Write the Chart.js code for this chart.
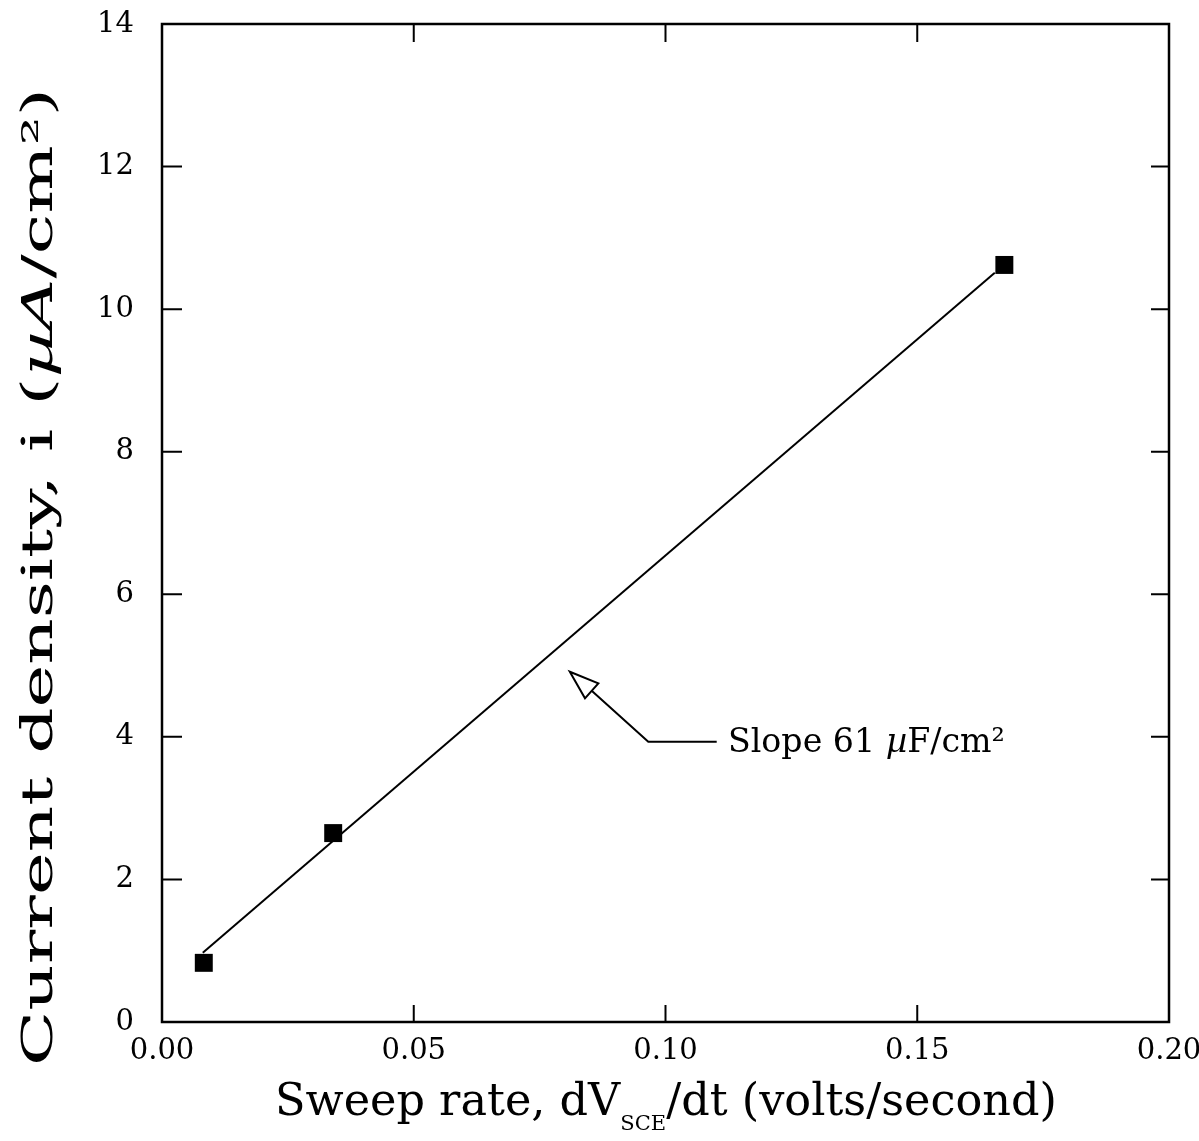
<!DOCTYPE html>
<html><head><meta charset="utf-8">
<script src="https://cdn.jsdelivr.net/npm/chart.js@4"></script>
<style>html,body{margin:0;padding:0;background:#fff}#wrap{width:1199px;height:1141px}</style>
</head><body><div id="wrap"><canvas id="c" width="1199" height="1141"></canvas></div>
<script>
// ---- data ----
const sweepRate = [0.0083, 0.0340, 0.1673];       // V/s
const currentDensity = [0.83, 2.65, 10.62];       // uA/cm2
const fitX = [0.0081, 0.1654];                    // fitted line ends
const fitY = [0.97, 10.51];
const xTicks = [0, 0.05, 0.10, 0.15, 0.20];
const yTicks = [0, 2, 4, 6, 8, 10, 12, 14];
// annotation (data coordinates)
const arrowTip = [0.0810, 4.914];
const arrowHeadA = [0.08666, 4.751];
const arrowHeadB = [0.08401, 4.541];
const arrowBase = [0.08534, 4.648];
const arrowElbow = [0.09658, 3.932];
const arrowEnd = [0.11017, 3.932];
const labelAnchor = [0.11241, 3.792];

const SERIF = '"DejaVu Serif", "Liberation Serif", serif';

// draws rich text; mode 'fit' scales font size, mode 'stretch' scales horizontally
function drawRich(ctx, segs, x, y, targetW, align, mode) {
  let total = 0;
  const fontOf = (s, k) => `${s.style || 'normal'} ${s.size * k}px ${SERIF}`;
  for (const s of segs) { ctx.font = fontOf(s, 1); total += ctx.measureText(s.t).width; }
  let k = 1, sx = 1;
  if (mode === 'stretch') sx = targetW / total; else k = targetW / total;
  const w = total * k * sx;
  ctx.save();
  ctx.translate(align === 'center' ? x - w / 2 : x, y);
  ctx.scale(sx, 1);
  ctx.textBaseline = 'alphabetic';
  ctx.textAlign = 'left';
  let cx = 0;
  for (const s of segs) {
    ctx.font = fontOf(s, k);
    ctx.fillText(s.t, cx, (s.dy || 0) * k);
    cx += ctx.measureText(s.t).width;
  }
  ctx.restore();
}

const framePlugin = {
  id: 'frame',
  afterDraw(chart) {
    const {ctx, chartArea: a, scales: {x, y}} = chart;
    ctx.save();
    ctx.strokeStyle = '#000';
    ctx.lineWidth = 2.5;
    ctx.strokeRect(a.left, a.top, a.right - a.left, a.bottom - a.top);
    // inward ticks on all four sides
    ctx.lineWidth = 2;
    ctx.beginPath();
    for (const t of x.ticks) {
      if (t.value <= x.min || t.value >= x.max) continue;
      const px = x.getPixelForValue(t.value);
      ctx.moveTo(px, a.bottom); ctx.lineTo(px, a.bottom - 17);
      ctx.moveTo(px, a.top); ctx.lineTo(px, a.top + 18);
    }
    for (const t of y.ticks) {
      if (t.value <= y.min || t.value >= y.max) continue;
      const py = y.getPixelForValue(t.value);
      ctx.moveTo(a.left, py); ctx.lineTo(a.left + 20, py);
      ctx.moveTo(a.right, py); ctx.lineTo(a.right - 18, py);
    }
    ctx.stroke();

    // arrow annotation
    const P = p => [x.getPixelForValue(p[0]), y.getPixelForValue(p[1])];
    const tip = P(arrowTip), hA = P(arrowHeadA), hB = P(arrowHeadB);
    const base = P(arrowBase), elbow = P(arrowElbow), end = P(arrowEnd);
    ctx.lineWidth = 2;
    ctx.fillStyle = '#fff';
    ctx.beginPath();
    ctx.moveTo(tip[0], tip[1]); ctx.lineTo(hA[0], hA[1]); ctx.lineTo(hB[0], hB[1]); ctx.closePath();
    ctx.fill(); ctx.stroke();
    ctx.beginPath();
    ctx.moveTo(base[0], base[1]); ctx.lineTo(elbow[0], elbow[1]); ctx.lineTo(end[0], end[1]);
    ctx.stroke();
    const la = P(labelAnchor);
    ctx.fillStyle = '#000';
    drawRich(ctx, [
      {t: 'Slope 61 ', size: 26},
      {t: 'µ', size: 26, style: 'italic'},
      {t: 'F/cm²', size: 26}
    ], la[0], la[1], 277, 'left', 'fit');

    // x axis title
    drawRich(ctx, [
      {t: 'Sweep rate, dV', size: 36},
      {t: 'SCE', size: 17, dy: 12},
      {t: '/dt (volts/second)', size: 36}
    ], 666, 1115, 782, 'center', 'fit');

    // y axis title (rotated)
    ctx.save();
    ctx.translate(52, 577);
    ctx.rotate(-Math.PI / 2);
    drawRich(ctx, [
      {t: 'Current density, i (', size: 42},
      {t: 'µA', size: 42, style: 'italic'},
      {t: '/cm²)', size: 42}
    ], 0, 0, 978, 'center', 'stretch');
    ctx.restore();
    ctx.restore();
  }
};

const tickFont = {family: SERIF, size: 29};

new Chart(document.getElementById('c'), {
  type: 'scatter',
  data: {
    datasets: [
      {
        data: sweepRate.map((v, i) => ({x: v, y: currentDensity[i]})),
        pointStyle: 'rect', pointRadius: 12.7, pointHoverRadius: 12.7,
        backgroundColor: '#000', borderColor: '#000', borderWidth: 0,
        showLine: false
      },
      {
        data: fitX.map((v, i) => ({x: v, y: fitY[i]})),
        showLine: true, pointRadius: 0, borderColor: '#000', borderWidth: 2, fill: false
      }
    ]
  },
  options: {
    responsive: false,
    animation: false,
    events: [],
    layout: {padding: {left: 0, right: 30, top: 24, bottom: 0}},
    plugins: {legend: {display: false}, tooltip: {enabled: false}},
    scales: {
      x: {
        type: 'linear', min: 0, max: 0.2,
        afterBuildTicks: s => { s.ticks = xTicks.map(v => ({value: v})); },
        ticks: {font: tickFont, color: '#000', padding: 12, maxRotation: 0, autoSkip: false,
                callback: v => Number(v).toFixed(2)},
        grid: {display: false, drawTicks: false},
        border: {display: false},
        afterFit: s => { s.height = 119; s.paddingLeft = 0; s.paddingRight = 0; }
      },
      y: {
        type: 'linear', min: 0, max: 14,
        afterBuildTicks: s => { s.ticks = yTicks.map(v => ({value: v})); },
        ticks: {font: tickFont, color: '#000', padding: 28, autoSkip: false,
                callback: v => String(v)},
        grid: {display: false, drawTicks: false},
        border: {display: false},
        afterFit: s => { s.width = 162; s.paddingTop = 0; s.paddingBottom = 0; }
      }
    }
  },
  plugins: [framePlugin]
});
</script>
</body></html>
